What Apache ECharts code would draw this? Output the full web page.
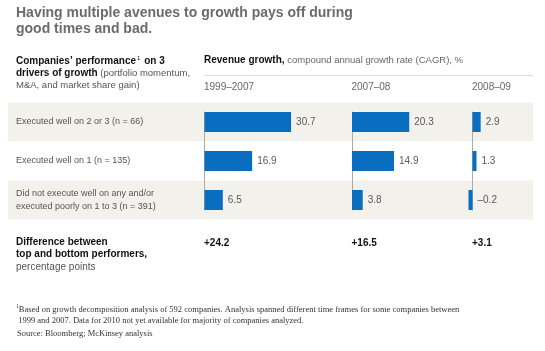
<!DOCTYPE html>
<html>
<head>
<meta charset="utf-8">
<script src="https://cdn.jsdelivr.net/npm/echarts@6/dist/echarts.min.js"></script>
<style>
  html, body { margin: 0; padding: 0; background: #fff; }
  #main { width: 545px; height: 351px; }
</style>
</head>
<body>
<div id="main"></div>
<script>
// data
var rows = [
  "Executed well on 2 or 3 (n = 66)",
  "Executed well on 1 (n = 135)",
  "Did not execute well on any and/or\nexecuted poorly on 1 to 3 (n = 391)"
];
var periods = ["1999\u20132007", "2007\u201308", "2008\u201309"];
var growth1999_2007 = [30.7, 16.9, 6.5];
var growth2007_08 = [20.3, 14.9, 3.8];
var growth2008_09 = [2.9, 1.3, -0.2];
var differences = [24.2, 16.5, 3.1];

var SANS = "'Liberation Sans', Arial, sans-serif";
var SERIF = "'Liberation Serif', 'Times New Roman', serif";
var BLUE = "#0a6ec0";

// panel layout: x of zero line, axis range
var pxPerUnit = 2.82;
var panels = [
  { zeroX: 204.5, min: 0, max: 40, data: growth1999_2007 },
  { zeroX: 352, min: 0, max: 40, data: growth2007_08 },
  { zeroX: 472.5, min: -4, max: 8, data: growth2008_09 }
];
var rowTop = 102.5, rowHeight = 117;

var chartDom = document.getElementById("main");
var myChart = echarts.init(chartDom);

var grids = [], xAxes = [], yAxes = [], series = [], graphics = [];

// background bands + row labels
grids.push({ left: 8, right: 12, top: rowTop, height: rowHeight });
xAxes.push({ type: "value", gridIndex: 0, show: false });
yAxes.push({
  type: "category", gridIndex: 0, data: rows, inverse: true,
  axisLine: { show: false }, axisTick: { show: false },
  axisLabel: {
    inside: true, margin: 8, fontFamily: SANS, fontSize: 9,
    color: "#555", lineHeight: 12.5
  },
  splitArea: { show: true, areaStyle: { color: ["#f2f1eb", "#ffffff"] } }
});

panels.forEach(function (p, i) {
  // bars
  var gi = grids.length;
  grids.push({
    left: p.zeroX + p.min * pxPerUnit, top: rowTop, height: rowHeight,
    width: (p.max - p.min) * pxPerUnit
  });
  xAxes.push({ type: "value", gridIndex: gi, min: p.min, max: p.max, show: false });
  yAxes.push({ type: "category", gridIndex: gi, data: rows, inverse: true, show: false });
  series.push({
    type: "bar", xAxisIndex: gi, yAxisIndex: gi, data: p.data,
    barWidth: 20, barMinHeight: i === 2 ? 4 : 0,
    itemStyle: { color: BLUE }, z: 3,
    label: {
      show: true, position: "right", distance: 5,
      fontFamily: SANS, fontSize: 10, color: "#5a5a5a",
      formatter: function (d) {
        return d.value < 0 ? "\u2013" + Math.abs(d.value).toFixed(1) : d.value.toFixed(1);
      }
    }
  });
  // zero line from first to last bar
  var li = grids.length;
  grids.push({ left: p.zeroX, top: 112, height: 98, width: 1 });
  xAxes.push({ type: "value", gridIndex: li, show: false });
  yAxes.push({
    type: "value", gridIndex: li,
    axisLine: { show: true, onZero: false, lineStyle: { color: "#aaa", width: 1 } },
    axisTick: { show: false }, axisLabel: { show: false }, splitLine: { show: false }
  });

  // period header and difference
  graphics.push({
    type: "text", left: p.zeroX - 0.5, top: 82,
    style: { text: periods[i], font: "10px " + SANS, fill: "#666" }
  });
  graphics.push({
    type: "text", left: p.zeroX - 0.5, top: 238,
    style: { text: "+" + differences[i].toFixed(1), font: "bold 10px " + SANS, fill: "#111" }
  });
});

// title
graphics.push({
  type: "text", left: 16, top: 5,
  style: {
    text: "Having multiple avenues to growth pays off during\ngood times and bad.",
    font: "bold 14px " + SANS, fill: "#6b6b6b", lineHeight: 16
  }
});
// left header
graphics.push({
  type: "text", left: 16, top: 55,
  style: {
    text: "{b|Companies\u2019 performance}{sup|1}{b| on 3}\n{b|drivers of growth}{r| (portfolio momentum,}\n{r|M&A, and market share gain)}",
    rich: {
      b: { font: "bold 10px " + SANS, fill: "#111", lineHeight: 12 },
      r: { font: "9.5px " + SANS, fill: "#555", lineHeight: 12 },
      sup: { font: "6px " + SANS, fill: "#111", lineHeight: 12, verticalAlign: "top", padding: [0, 1, 4, 1] }
    }
  }
});
// revenue growth header
graphics.push({
  type: "text", left: 204, top: 55,
  style: {
    text: "{b|Revenue growth,}{r| compound annual growth rate (CAGR), %}",
    rich: {
      b: { font: "bold 10px " + SANS, fill: "#111" },
      r: { font: "9.5px " + SANS, fill: "#666" }
    }
  }
});
graphics.push({
  type: "line", shape: { x1: 204, y1: 75.5, x2: 533, y2: 75.5 },
  style: { stroke: "#dcdcdc", lineWidth: 1 }
});
// difference label
graphics.push({
  type: "text", left: 16, top: 237,
  style: {
    text: "{b|Difference between}\n{b|top and bottom performers,}\n{r|percentage points}",
    rich: {
      b: { font: "bold 10px " + SANS, fill: "#111", lineHeight: 12.5 },
      r: { font: "10px " + SANS, fill: "#555", lineHeight: 12.5 }
    }
  }
});
// footnote
graphics.push({
  type: "text", left: 16, top: 304,
  style: {
    text: "{s|1}{t|Based on growth decomposition analysis of 592 companies. Analysis spanned different time frames for some companies between}\n{t| 1999 and 2007. Data for 2010 not yet available for majority of companies analyzed.}",
    rich: {
      t: { font: "8.5px " + SERIF, fill: "#333", lineHeight: 11 },
      s: { font: "5.5px " + SERIF, fill: "#333", lineHeight: 11, verticalAlign: "top", padding: [0, 0, 3, 0] }
    }
  }
});
graphics.push({
  type: "text", left: 17, top: 329,
  style: { text: "Source: Bloomberg; McKinsey analysis", font: "8.5px " + SERIF, fill: "#333" }
});

var option = {
  animation: false,
  backgroundColor: "#fff",
  grid: grids,
  xAxis: xAxes,
  yAxis: yAxes,
  series: series,
  graphic: graphics
};

myChart.setOption(option);
window.addEventListener("resize", function () { myChart.resize(); });
</script>
</body>
</html>
